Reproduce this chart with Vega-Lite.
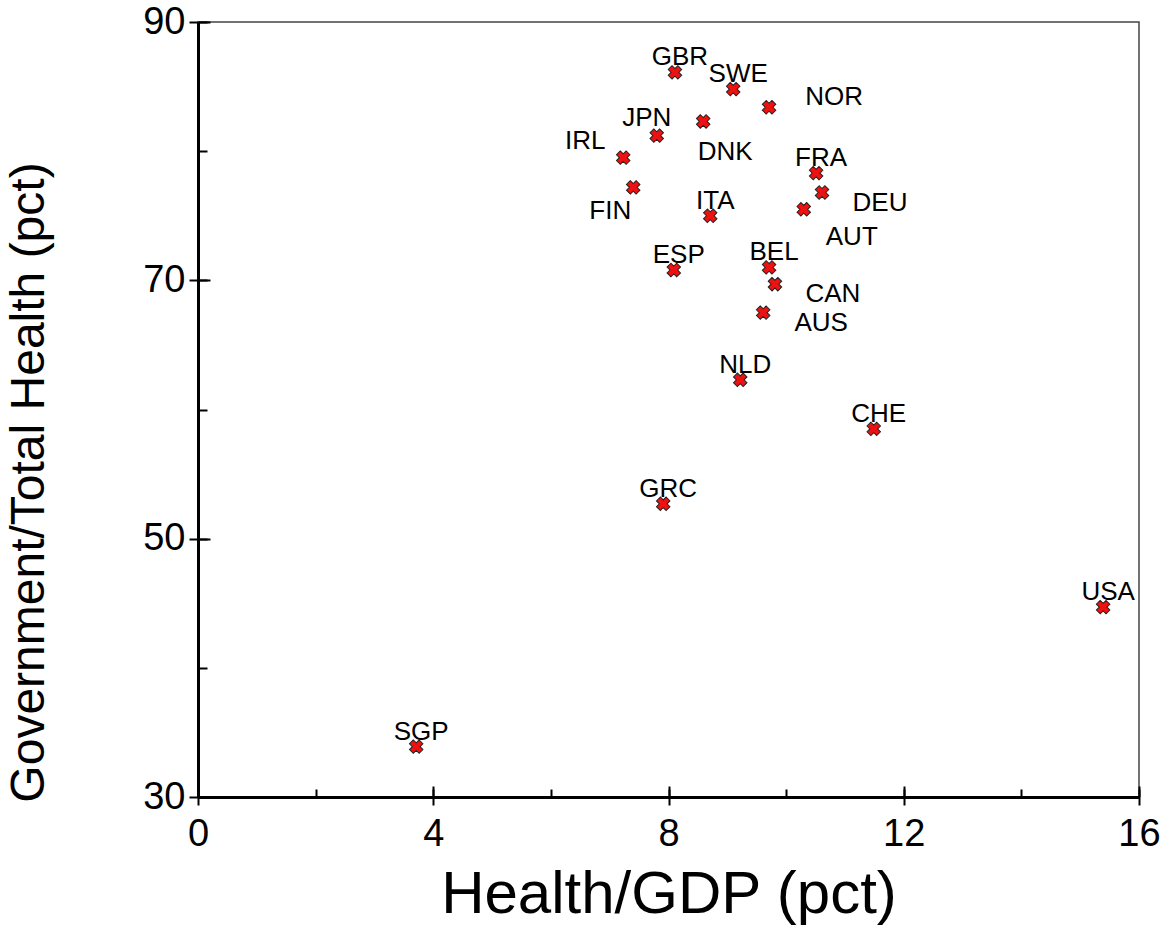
{
  "$schema": "https://vega.github.io/schema/vega-lite/v6.json",
  "autosize": "none",
  "width": 941,
  "height": 775,
  "padding": {"left": 198, "top": 22, "right": 30, "bottom": 135},
  "background": "white",
  "config": {
    "font": "Liberation Sans",
    "view": {"stroke": "#444", "strokeWidth": 1.5},
    "axis": {"grid": false}
  },
  "data": {
    "values": [
      {"name": "GBR", "gdp": 8.11, "gov": 86.1, "pos": "above"},
      {"name": "SWE", "gdp": 9.10, "gov": 84.8, "pos": "above"},
      {"name": "NOR", "gdp": 9.71, "gov": 83.4, "pos": "upper-right"},
      {"name": "JPN", "gdp": 7.80, "gov": 81.2, "pos": "above-left"},
      {"name": "DNK", "gdp": 8.59, "gov": 82.3, "pos": "below"},
      {"name": "IRL", "gdp": 7.23, "gov": 79.5, "pos": "left"},
      {"name": "FRA", "gdp": 10.51, "gov": 78.3, "pos": "above"},
      {"name": "DEU", "gdp": 10.61, "gov": 76.8, "pos": "right"},
      {"name": "FIN", "gdp": 7.40, "gov": 77.2, "pos": "below-left"},
      {"name": "AUT", "gdp": 10.30, "gov": 75.5, "pos": "below-right"},
      {"name": "ITA", "gdp": 8.71, "gov": 75.0, "pos": "above"},
      {"name": "ESP", "gdp": 8.09, "gov": 70.8, "pos": "above"},
      {"name": "BEL", "gdp": 9.71, "gov": 71.0, "pos": "above"},
      {"name": "CAN", "gdp": 9.81, "gov": 69.7, "pos": "right"},
      {"name": "AUS", "gdp": 9.61, "gov": 67.5, "pos": "right"},
      {"name": "NLD", "gdp": 9.22, "gov": 62.3, "pos": "above"},
      {"name": "CHE", "gdp": 11.49, "gov": 58.5, "pos": "above"},
      {"name": "GRC", "gdp": 7.91, "gov": 52.7, "pos": "above"},
      {"name": "USA", "gdp": 15.39, "gov": 44.7, "pos": "above"},
      {"name": "SGP", "gdp": 3.71, "gov": 33.9, "pos": "above"}
    ]
  },
  "resolve": {"axis": {"x": "independent", "y": "independent"}},
  "layer": [
    {
      "mark": {"type": "point", "opacity": 0},
      "encoding": {
        "x": {"field": "gdp", "type": "quantitative", "scale": {"domain": [0, 16], "nice": false, "zero": false},
          "axis": {"orient": "bottom", "values": [0, 2, 4, 6, 8, 10, 12, 14, 16], "tickSize": -8, "tickWidth": 2, "tickColor": "black", "labels": false, "domain": false, "title": null}},
        "y": {"field": "gov", "type": "quantitative", "scale": {"domain": [30, 90], "nice": false, "zero": false},
          "axis": {"orient": "left", "values": [30, 40, 50, 60, 70, 80, 90], "tickSize": -9, "tickWidth": 2, "tickColor": "black", "labels": false, "domain": false, "title": null}}
      }
    },
    {
      "mark": {"type": "point", "opacity": 0},
      "encoding": {
        "x": {"field": "gdp", "type": "quantitative",
          "axis": {"orient": "bottom", "values": [0, 4, 8, 12, 16], "tickSize": -11, "tickWidth": 2, "tickColor": "black", "labels": false, "domain": false, "title": null}},
        "y": {"field": "gov", "type": "quantitative",
          "axis": {"orient": "left", "values": [30, 50, 70, 90], "tickSize": -12, "tickWidth": 2, "tickColor": "black", "labels": false, "domain": false, "title": null}}
      }
    },
    {
      "mark": {"type": "point", "shape": "cross", "angle": 45, "size": 185, "filled": true, "fill": "#ee1111", "stroke": "#222", "strokeWidth": 1, "opacity": 1},
      "encoding": {
        "x": {"field": "gdp", "type": "quantitative",
          "axis": {"orient": "bottom", "values": [0, 4, 8, 12, 16], "tickSize": 8, "tickWidth": 2, "tickColor": "black", "domainColor": "black", "domainWidth": 3, "labelFontSize": 38, "labelColor": "black", "labelPadding": 10, "labelFlush": false, "title": "Health/GDP (pct)", "titleFontSize": 60, "titleFontWeight": "normal", "titleColor": "black", "titlePadding": 12}},
        "y": {"field": "gov", "type": "quantitative",
          "axis": {"orient": "left", "values": [30, 50, 70, 90], "tickSize": 9, "tickWidth": 2, "tickColor": "black", "domainColor": "black", "domainWidth": 3, "labelFontSize": 38, "labelColor": "black", "labelPadding": 4, "labelFlush": false, "title": "Government/Total Health (pct)", "titleFontSize": 48, "titleFontWeight": "normal", "titleColor": "black", "titlePadding": 89, "titleY": 460}}
      }
    },
    {
      "transform": [{"filter": "datum.pos === 'above'"}],
      "mark": {"type": "text", "fontSize": 26, "color": "black", "align": "center", "baseline": "middle", "dx": 5, "dy": -15},
      "encoding": {"x": {"field": "gdp", "type": "quantitative", "axis": null}, "y": {"field": "gov", "type": "quantitative", "axis": null}, "text": {"field": "name"}}
    },
    {
      "transform": [{"filter": "datum.pos === 'upper-right'"}],
      "mark": {"type": "text", "fontSize": 26, "color": "black", "align": "center", "baseline": "middle", "dx": 65, "dy": -10},
      "encoding": {"x": {"field": "gdp", "type": "quantitative", "axis": null}, "y": {"field": "gov", "type": "quantitative", "axis": null}, "text": {"field": "name"}}
    },
    {
      "transform": [{"filter": "datum.pos === 'right'"}],
      "mark": {"type": "text", "fontSize": 26, "color": "black", "align": "center", "baseline": "middle", "dx": 58, "dy": 10},
      "encoding": {"x": {"field": "gdp", "type": "quantitative", "axis": null}, "y": {"field": "gov", "type": "quantitative", "axis": null}, "text": {"field": "name"}}
    },
    {
      "transform": [{"filter": "datum.pos === 'above-left'"}],
      "mark": {"type": "text", "fontSize": 26, "color": "black", "align": "center", "baseline": "middle", "dx": -10, "dy": -18},
      "encoding": {"x": {"field": "gdp", "type": "quantitative", "axis": null}, "y": {"field": "gov", "type": "quantitative", "axis": null}, "text": {"field": "name"}}
    },
    {
      "transform": [{"filter": "datum.pos === 'left'"}],
      "mark": {"type": "text", "fontSize": 26, "color": "black", "align": "center", "baseline": "middle", "dx": -38, "dy": -17},
      "encoding": {"x": {"field": "gdp", "type": "quantitative", "axis": null}, "y": {"field": "gov", "type": "quantitative", "axis": null}, "text": {"field": "name"}}
    },
    {
      "transform": [{"filter": "datum.pos === 'below-left'"}],
      "mark": {"type": "text", "fontSize": 26, "color": "black", "align": "center", "baseline": "middle", "dx": -23, "dy": 24},
      "encoding": {"x": {"field": "gdp", "type": "quantitative", "axis": null}, "y": {"field": "gov", "type": "quantitative", "axis": null}, "text": {"field": "name"}}
    },
    {
      "transform": [{"filter": "datum.pos === 'below'"}],
      "mark": {"type": "text", "fontSize": 26, "color": "black", "align": "center", "baseline": "middle", "dx": 22, "dy": 31},
      "encoding": {"x": {"field": "gdp", "type": "quantitative", "axis": null}, "y": {"field": "gov", "type": "quantitative", "axis": null}, "text": {"field": "name"}}
    },
    {
      "transform": [{"filter": "datum.pos === 'below-right'"}],
      "mark": {"type": "text", "fontSize": 26, "color": "black", "align": "center", "baseline": "middle", "dx": 48, "dy": 28},
      "encoding": {"x": {"field": "gdp", "type": "quantitative", "axis": null}, "y": {"field": "gov", "type": "quantitative", "axis": null}, "text": {"field": "name"}}
    }
  ]
}
